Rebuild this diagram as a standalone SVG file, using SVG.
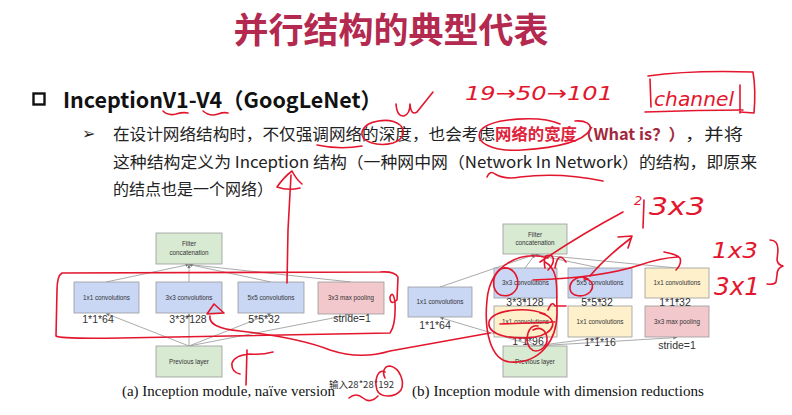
<svg xmlns="http://www.w3.org/2000/svg" width="792" height="415" viewBox="0 0 792 415">
  <defs>
    <marker id="arr" viewBox="0 0 6 6" refX="6" refY="3" markerWidth="4" markerHeight="4" orient="auto">
      <path d="M0,0 L6,3 L0,6 Z" fill="#777"/>
    </marker>
    <style>
      .title { font-family: "Noto Sans CJK SC", sans-serif; font-weight: 700; font-size: 35px; fill: #b3294f; }
      .head { font-family: "Noto Sans CJK SC", "Liberation Sans", sans-serif; font-weight: 700; font-size: 21.5px; fill: #111; }
      .body { font-family: "Noto Sans CJK SC", "Liberation Sans", sans-serif; font-size: 16px; fill: #222; }
      .hl { font-weight: 700; fill: #e0243c; }
      .hl2 { font-weight: 700; fill: #a3283d; }
      .box { stroke: #9a9a9a; stroke-width: 0.8; }
      .green { fill: #d9ead3; }
      .blue { fill: #c9d7f5; }
      .yellow { fill: #fdf0cb; }
      .pink { fill: #f2c8cc; }
      .bl { font-family: "Liberation Sans", Arial, sans-serif; font-size: 6.3px; fill: #333; text-anchor: middle; }
      .dim { font-family: "Liberation Sans", Arial, sans-serif; font-size: 10.5px; fill: #333; text-anchor: middle; }
      .cap { font-family: "Liberation Serif", "Times New Roman", serif; font-size: 14px; fill: #111; }
      .edge { stroke: #a0a0a0; stroke-width: 0.9; fill: none; }
      .ink { stroke: #e3162d; stroke-width: 1.6; fill: none; stroke-linecap: round; stroke-linejoin: round; }
      .inktext { font-family: "DejaVu Sans", sans-serif; font-style: italic; font-weight: 200; fill: #e3162d; }
    </style>
  </defs>

  <rect width="792" height="415" fill="#ffffff"/>

  <!-- heading -->
  <text class="title" x="391" y="43" text-anchor="middle">并行结构的典型代表</text>

  <rect x="33.5" y="93.5" width="11" height="11" fill="none" stroke="#111" stroke-width="2.4"/>
  <text class="head" x="63" y="108" textLength="319" lengthAdjust="spacingAndGlyphs">InceptionV1-V4（GoogLeNet）</text>

  <text class="body" x="82" y="139" font-size="14">➢</text>
  <text class="body" x="113" y="140" textLength="382" lengthAdjust="spacingAndGlyphs">在设计网络结构时，不仅强调网络的深度，也会考虑</text>
  <text class="body hl" x="495" y="140" textLength="82" lengthAdjust="spacingAndGlyphs">网络的宽度</text>
  <text class="body hl2" x="577" y="140" textLength="108" lengthAdjust="spacingAndGlyphs">（What is？）</text>
  <text class="body" x="685" y="140" textLength="58" lengthAdjust="spacingAndGlyphs">，并将</text>
  <text class="body" x="113" y="167.5" textLength="644" lengthAdjust="spacingAndGlyphs">这种结构定义为 Inception 结构（一种网中网（Network In Network）的结构，即原来</text>
  <text class="body" x="113" y="195">的结点也是一个网络）</text>

  <!-- connectors of both modules -->
  <g id="connectors">
    <!-- naive module -->
    <line class="edge" x1="189" y1="346" x2="106" y2="313.5" marker-end="url(#arr)"/>
    <line class="edge" x1="189" y1="346" x2="189" y2="313.5" marker-end="url(#arr)"/>
    <line class="edge" x1="189" y1="346" x2="271" y2="313.5" marker-end="url(#arr)"/>
    <line class="edge" x1="189" y1="346" x2="351" y2="314.5" marker-end="url(#arr)"/>
    <line class="edge" x1="106" y1="282" x2="189" y2="264.5" marker-end="url(#arr)"/>
    <line class="edge" x1="189" y1="282" x2="189" y2="264.5" marker-end="url(#arr)"/>
    <line class="edge" x1="271" y1="282" x2="189" y2="264.5" marker-end="url(#arr)"/>
    <line class="edge" x1="351" y1="282" x2="189" y2="264.5" marker-end="url(#arr)"/>
    <!-- module with dimension reductions -->
    <line class="edge" x1="535" y1="346" x2="440" y2="317.5" marker-end="url(#arr)"/>
    <line class="edge" x1="535" y1="346" x2="525" y2="337.5" marker-end="url(#arr)"/>
    <line class="edge" x1="535" y1="346" x2="600" y2="337.5" marker-end="url(#arr)"/>
    <line class="edge" x1="535" y1="346" x2="677" y2="337.5" marker-end="url(#arr)"/>
    <line class="edge" x1="525" y1="306" x2="525" y2="298.5" marker-end="url(#arr)"/>
    <line class="edge" x1="600" y1="306" x2="600" y2="298.5" marker-end="url(#arr)"/>
    <line class="edge" x1="677" y1="306" x2="677" y2="298.5" marker-end="url(#arr)"/>
    <line class="edge" x1="440" y1="287" x2="535" y2="254.5" marker-end="url(#arr)"/>
    <line class="edge" x1="525" y1="268" x2="535" y2="254.5" marker-end="url(#arr)"/>
    <line class="edge" x1="600" y1="268" x2="535" y2="254.5" marker-end="url(#arr)"/>
    <line class="edge" x1="677" y1="268" x2="535" y2="254.5" marker-end="url(#arr)"/>
  </g>

  <!-- (a) naive module -->
  <g id="a-concat">
    <rect class="box green" x="156" y="233" width="66" height="31"/>
    <text class="bl" x="189" y="246">Filter</text>
    <text class="bl" x="189" y="254.5">concatenation</text>
  </g>
  <g id="a-conv1">
    <rect class="box blue" x="74" y="282" width="65" height="31"/>
    <text class="bl" x="106.5" y="299.5">1x1 convolutions</text>
  </g>
  <g id="a-conv3">
    <rect class="box blue" x="156" y="282" width="66" height="31"/>
    <text class="bl" x="189" y="299.5">3x3 convolutions</text>
  </g>
  <g id="a-conv5">
    <rect class="box blue" x="238" y="282" width="66" height="31"/>
    <text class="bl" x="271" y="299.5">5x5 convolutions</text>
  </g>
  <g id="a-pool">
    <rect class="box pink" x="318" y="282" width="66" height="32"/>
    <text class="bl" x="351" y="300">3x3 max pooling</text>
  </g>
  <g id="a-prev">
    <rect class="box green" x="156" y="346" width="66" height="31"/>
    <text class="bl" x="189" y="364">Previous layer</text>
  </g>
  <text class="dim" x="98" y="323">1*1*64</text>
  <text class="dim" x="188" y="323">3*3*128</text>
  <text class="dim" x="264" y="323">5*5*32</text>
  <text class="dim" x="352" y="322">stride=1</text>

  <!-- (b) module with dimension reductions -->
  <g id="b-concat">
    <rect class="box green" x="503" y="224" width="64" height="30"/>
    <text class="bl" x="535" y="236.5">Filter</text>
    <text class="bl" x="535" y="245">concatenation</text>
  </g>
  <g id="b-conv1">
    <rect class="box blue" x="408" y="287" width="64" height="30"/>
    <text class="bl" x="440" y="304">1x1 convolutions</text>
  </g>
  <g id="b-conv3">
    <rect class="box blue" x="494" y="268" width="63" height="30"/>
    <text class="bl" x="525.5" y="285">3x3 convolutions</text>
  </g>
  <g id="b-conv5">
    <rect class="box blue" x="568" y="268" width="64" height="30"/>
    <text class="bl" x="600" y="285">5x5 convolutions</text>
  </g>
  <g id="b-proj">
    <rect class="box yellow" x="645" y="268" width="64" height="30"/>
    <text class="bl" x="677" y="285">1x1 convolutions</text>
  </g>
  <g id="b-red3">
    <rect class="box yellow" x="494" y="306" width="63" height="31"/>
    <text class="bl" x="525.5" y="323.5">1x1 convolutions</text>
  </g>
  <g id="b-red5">
    <rect class="box yellow" x="568" y="306" width="64" height="31"/>
    <text class="bl" x="600" y="323.5">1x1 convolutions</text>
  </g>
  <g id="b-pool">
    <rect class="box pink" x="645" y="306" width="64" height="31"/>
    <text class="bl" x="677" y="323.5">3x3 max pooling</text>
  </g>
  <g id="b-prev">
    <rect class="box green" x="503" y="346" width="64" height="31"/>
    <text class="bl" x="535" y="364">Previous layer</text>
  </g>
  <text class="dim" x="525" y="306">3*3*128</text>
  <text class="dim" x="597" y="306">5*5*32</text>
  <text class="dim" x="675" y="306">1*1*32</text>
  <text class="dim" x="435" y="329">1*1*64</text>
  <text class="dim" x="528" y="345">1*1*96</text>
  <text class="dim" x="600" y="346">1*1*16</text>
  <text class="dim" x="677" y="349">stride=1</text>

  <!-- captions -->
  <text class="cap" x="122" y="396" textLength="213" lengthAdjust="spacingAndGlyphs">(a) Inception module, naïve version</text>
  <text class="cap" x="412" y="396" textLength="292" lengthAdjust="spacingAndGlyphs">(b) Inception module with dimension reductions</text>
  <text x="329" y="388" font-family="Noto Sans CJK SC, sans-serif" font-size="9.5" fill="#333" textLength="65" lengthAdjust="spacingAndGlyphs">输入28*28*192</text>

  <!-- pen annotations -->
  <g id="pen">
    <path class="ink" d="M163,111 Q168,116 176,114 Q183,112 188,113"/>
    <path class="ink" d="M203,111 Q210,117 218,114 Q224,112 228,113"/>
    <path class="ink" d="M396,104 Q397,117 404,116 Q410,114 410,104 Q411,116 417,112 L433,92"/>
    <path class="ink" d="M400,125 C390,117 365,120 362,132 C360,142 378,147 393,143 C402,140 406,133 401,126"/>
    <path class="ink" d="M317,145 Q340,150 362,146"/>
    <path class="ink" d="M560,124 C540,115 492,118 481,130 C473,142 492,152 522,150 C552,148 582,143 590,130 C592,124 585,120 575,121"/>
    <path class="ink" d="M487,177 Q490,170 495,174 Q505,180 520,177 Q560,172 603,181"/>
    <text class="inktext" x="465" y="100" font-size="20" textLength="148" lengthAdjust="spacingAndGlyphs">19→50→101</text>
    <path class="ink" d="M648,76 Q690,70 753,72 Q756,90 754,113 L740,112"/>
    <path class="ink" d="M650,79 L651,107 M645,112 Q700,110 743,110 M740,85 L740,113"/>
    <text class="inktext" x="654" y="106" font-size="20" textLength="80" lengthAdjust="spacingAndGlyphs">channel</text>
    <path class="ink" d="M287,283 L288,230 L291,175"/>
    <path class="ink" d="M277,187 Q284,177 292,171 Q296,179 302,184 M277,187 Q288,191 300,188"/>
    <path class="ink" d="M62,273 Q57,276 57,290 L56,336 Q60,339 120,338 L390,333 Q396,325 395,302 Q393,290 390,297 Q390,306 397,300 L398,277 Q395,271 380,272 L62,273"/>
    <path class="ink" d="M207,314 L214,304 L224,313 Z"/>
    <path class="ink" d="M210,316 Q208,328 240,331 Q300,338 330,350 Q360,360 390,351 Q440,342 490,333"/>
    <path class="ink" d="M273,352 Q262,355 250,354 Q235,355 232,363 Q231,372 240,374 M247,350 L246,385"/>
    <path class="ink" d="M385,372 C378,368 374,380 377,390 C380,398 395,398 401,390 C405,382 400,368 390,366 C384,366 382,372 385,378"/>
    <path class="ink" d="M349,398 Q356,392 363,398 Q370,404 378,396"/>
    <path class="ink" d="M512,270 C500,263 492,275 494,287 C497,299 512,298 517,288 C520,278 514,268 505,268"/>
    <path class="ink" d="M588,279 C580,274 569,280 570,289 C571,297 584,298 590,292 C595,286 592,279 584,279"/>
    <path class="ink" d="M533,280 Q600,278 640,265 Q660,258 678,257 M664,252 Q676,254 680,258 Q682,264 676,270"/>
    <path class="ink" d="M590,276 Q605,258 631,238 M618,237 L632,236 L628,248"/>
    <path class="ink" d="M540,262 Q580,235 623,212"/>
    <path class="ink" d="M545,268 Q542,252 552,256 Q556,262 548,270 M555,268 Q558,250 566,262"/>
    <path class="ink" d="M548,258 C520,250 490,265 487,300 C484,330 490,360 510,362 C540,364 558,340 557,310 C556,290 560,270 545,262"/>
    <path class="ink" d="M545,314 C525,306 492,310 489,322 C487,335 510,340 535,337 C555,334 560,318 540,313 M500,324 L555,322"/>
    <path class="ink" d="M548,310 Q552,300 555,306 L566,306"/>
    <path class="ink" d="M538,326 C528,324 524,340 530,348 C536,355 548,348 547,338 C546,330 540,326 533,330"/>
    <text class="inktext" x="634" y="205" font-size="13">2</text>
    <path class="ink" d="M644,200 L643,228"/>
    <text class="inktext" x="649" y="215" font-size="24" textLength="56" lengthAdjust="spacingAndGlyphs">3x3</text>
    <text class="inktext" x="712" y="258" font-size="22" textLength="46" lengthAdjust="spacingAndGlyphs">1x3</text>
    <text class="inktext" x="714" y="295" font-size="24" textLength="46" lengthAdjust="spacingAndGlyphs">3x1</text>
    <path class="ink" d="M770,240 Q778,240 778,250 L777,260 Q778,265 783,266 Q777,268 777,275 L776,282 Q774,285 767,284"/>
  </g>
</svg>
